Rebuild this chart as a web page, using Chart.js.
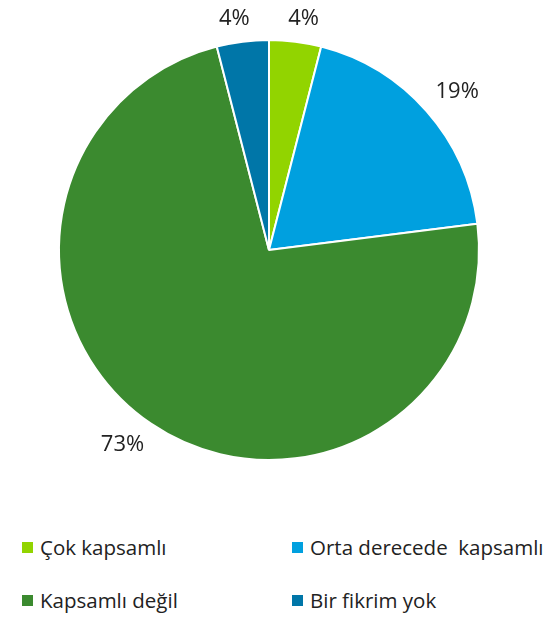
<!DOCTYPE html>
<html>
<head>
<meta charset="utf-8">
<script src="https://cdn.jsdelivr.net/npm/chart.js@4"></script>
<style>
  body { margin: 0; background: #fff; font-family: "Open Sans", "Noto Sans", sans-serif; }
  .wrap { position: relative; width: 559px; height: 618px; }
  #pieChart { position: absolute; left: 0; top: 0; }
  .legend { position: absolute; left: 0; top: 0; width: 559px; color: #222; font-size: 20.5px; line-height: 24px; }
  .legend-item { position: absolute; display: flex; align-items: center; white-space: pre; }
  .legend-item span.box { width: 11px; height: 11px; margin-right: 7px; }
</style>
</head>
<body>
<div class="wrap">
  <canvas id="pieChart" width="559" height="520"></canvas>
  <div class="legend" id="legend"></div>
</div>
<script>
// Survey answers
var labels = ["Çok kapsamlı", "Orta derecede  kapsamlı", "Kapsamlı değil", "Bir fikrim yok"];
var values = [4, 19, 73, 4];
var colors = ["#92d400", "#00a0df", "#3b8a2f", "#0076a8"];

function clamp1(v) {
  return Math.max(-1, Math.min(1, v));
}

// percentage labels outside the slices
var outsideLabels = {
  id: "outsideLabels",
  afterDatasetsDraw: function (chart) {
    var ctx = chart.ctx;
    var meta = chart.getDatasetMeta(0);
    ctx.save();
    ctx.font = "22px 'Open Sans', 'Noto Sans', sans-serif";
    ctx.fillStyle = "#222";
    ctx.textAlign = "center";
    ctx.textBaseline = "middle";
    meta.data.forEach(function (arc, i) {
      var mid = (arc.startAngle + arc.endAngle) / 2;
      var text = values[i] + "%";
      var hw = ctx.measureText(text).width / 2;
      var hh = 11;
      var c = Math.cos(mid), s = Math.sin(mid);
      var r = arc.outerRadius + 12;
      var x = arc.x + c * r + hw * clamp1(c * 3.5);
      var y = arc.y + s * r + hh * clamp1(s * 3.5);
      ctx.fillText(text, x, y);
    });
    ctx.restore();
  }
};

var pieCtx = document.getElementById("pieChart").getContext("2d");
var pieChart = new Chart(pieCtx, {
  type: "pie",
  data: {
    labels: labels,
    datasets: [
      {
        data: values,
        backgroundColor: colors,
        borderColor: "#ffffff",
        borderWidth: 2,
      },
    ],
  },
  options: {
    responsive: false,
    animation: false,
    layout: {
      padding: { top: 39, bottom: 59, left: 58, right: 79 },
    },
    plugins: {
      legend: { display: false },
      tooltip: { enabled: false },
    },
  },
  plugins: [outsideLabels],
});

// legend, two columns
var legendEl = document.getElementById("legend");
var cols = [22, 292];
var rows = [535, 588];
labels.forEach(function (name, i) {
  var item = document.createElement("div");
  item.className = "legend-item";
  item.style.left = cols[i % 2] + "px";
  item.style.top = rows[Math.floor(i / 2)] + "px";
  item.innerHTML = '<span class="box" style="background:' + colors[i] + '"></span>' + name;
  legendEl.appendChild(item);
});
</script>
</body>
</html>
